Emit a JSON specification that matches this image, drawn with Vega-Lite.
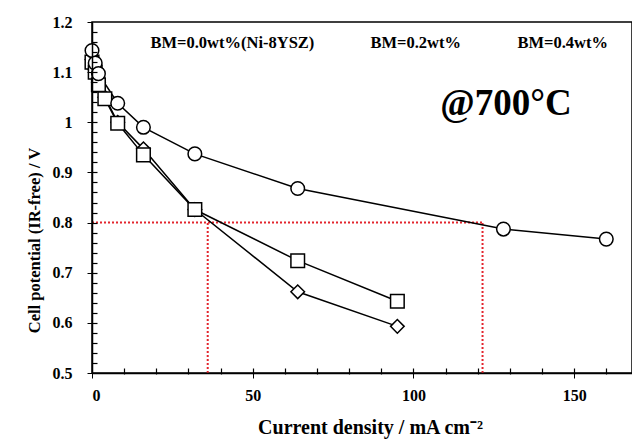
{
  "$schema": "https://vega.github.io/schema/vega-lite/v6.json",
  "width": 540,
  "height": 351,
  "autosize": {"type": "none"},
  "padding": {"left": 92, "top": 22, "right": 0, "bottom": 73},
  "background": "white",
  "config": {
    "view": {"stroke": "black", "strokeWidth": 1.5},
    "font": "Liberation Serif",
    "axis": {"grid": false, "domainColor": "black", "tickColor": "black", "labelColor": "black", "titleColor": "black", "labelFont": "Liberation Serif", "titleFont": "Liberation Serif", "labelFontWeight": "bold", "titleFontWeight": "bold", "labelFontSize": 16, "domainWidth": 1.5, "labelOverlap": false}
  },
  "resolve": {"axis": {"x": "independent", "y": "independent"}},
  "datasets": {
    "pts": [
      {"s": "BM=0.0wt%(Ni-8YSZ)", "x": 0, "y": 1.125},
      {"s": "BM=0.0wt%(Ni-8YSZ)", "x": 1, "y": 1.105},
      {"s": "BM=0.0wt%(Ni-8YSZ)", "x": 2, "y": 1.08},
      {"s": "BM=0.0wt%(Ni-8YSZ)", "x": 4, "y": 1.05},
      {"s": "BM=0.0wt%(Ni-8YSZ)", "x": 8, "y": 1.0},
      {"s": "BM=0.0wt%(Ni-8YSZ)", "x": 16, "y": 0.947},
      {"s": "BM=0.0wt%(Ni-8YSZ)", "x": 32, "y": 0.826},
      {"s": "BM=0.0wt%(Ni-8YSZ)", "x": 64, "y": 0.662},
      {"s": "BM=0.0wt%(Ni-8YSZ)", "x": 95, "y": 0.593},
      {"s": "BM=0.2wt%", "x": 0, "y": 1.12},
      {"s": "BM=0.2wt%", "x": 1, "y": 1.10},
      {"s": "BM=0.2wt%", "x": 2, "y": 1.075},
      {"s": "BM=0.2wt%", "x": 4, "y": 1.047},
      {"s": "BM=0.2wt%", "x": 8, "y": 0.998},
      {"s": "BM=0.2wt%", "x": 16, "y": 0.935},
      {"s": "BM=0.2wt%", "x": 32, "y": 0.826},
      {"s": "BM=0.2wt%", "x": 64, "y": 0.724},
      {"s": "BM=0.2wt%", "x": 95, "y": 0.643},
      {"s": "BM=0.4wt%", "x": 0, "y": 1.143},
      {"s": "BM=0.4wt%", "x": 1, "y": 1.118},
      {"s": "BM=0.4wt%", "x": 2, "y": 1.097},
      {"s": "BM=0.4wt%", "x": 8, "y": 1.038},
      {"s": "BM=0.4wt%", "x": 16, "y": 0.99},
      {"s": "BM=0.4wt%", "x": 32, "y": 0.937},
      {"s": "BM=0.4wt%", "x": 64, "y": 0.868},
      {"s": "BM=0.4wt%", "x": 128, "y": 0.787},
      {"s": "BM=0.4wt%", "x": 160, "y": 0.767}
    ],
    "guides": [
      {"x": 0, "x2": 121.5, "y": 0.8, "y2": 0.8},
      {"x": 36, "x2": 36, "y": 0.5, "y2": 0.8},
      {"x": 121.5, "x2": 121.5, "y": 0.5, "y2": 0.8}
    ],
    "label": [{"x": 128.8, "y": 1.036, "t": "@700°C"}]
  },
  "layer": [
    {
      "data": {"name": "guides"},
      "mark": {"type": "rule", "color": "#e3252d", "strokeWidth": 2, "strokeDash": [2, 2]},
      "encoding": {
        "x": {"field": "x", "type": "quantitative", "scale": {"domain": [0, 168], "nice": false},
          "axis": {"orient": "bottom", "title": "Current density / mA cm\u207b\u00b2", "titleFontSize": 20, "values": [0, 50, 100, 150], "tickSize": 5, "tickWidth": 1, "labelPadding": 9, "titlePadding": 14, "titleX": 278, "zindex": 1}},
        "x2": {"field": "x2"},
        "y": {"field": "y", "type": "quantitative", "scale": {"domain": [0.5, 1.2], "nice": false},
          "axis": {"orient": "left", "title": "Cell potential (IR-free) / V", "titleFontSize": 16.5, "values": [0.5, 0.6, 0.7, 0.8, 0.9, 1.0, 1.1, 1.2], "labelExpr": "datum.value == 1 ? '1' : format(datum.value, '.1f')", "tickSize": 5, "tickWidth": 1, "labelPadding": 15, "titlePadding": 10, "titleY": 218, "zindex": 1}},
        "y2": {"field": "y2"}
      }
    },
    {
      "data": {"name": "pts"},
      "mark": {"type": "line", "color": "black", "strokeWidth": 1.5},
      "encoding": {
        "x": {"field": "x", "type": "quantitative",
          "axis": {"orient": "bottom", "offset": -5, "domain": false, "labels": false, "title": null, "tickSize": 6, "tickWidth": 1.2, "zindex": 1, "values": [10,20,30,40,50,60,70,80,90,100,110,120,130,140,150,160]}},
        "y": {"field": "y", "type": "quantitative",
          "axis": {"orient": "left", "offset": -5, "domain": false, "labels": false, "title": null, "tickSize": 5, "tickWidth": 1.2, "zindex": 1, "values": [0.52,0.54,0.56,0.58,0.6,0.62,0.64,0.66,0.68,0.7,0.72,0.74,0.76,0.78,0.8,0.82,0.84,0.86,0.88,0.9,0.92,0.94,0.96,0.98,1.0,1.02,1.04,1.06,1.08,1.1,1.12,1.14,1.16,1.18]}},
        "detail": {"field": "s"}
      }
    },
    {
      "data": {"name": "pts"},
      "mark": {"type": "point", "filled": false, "fill": "white", "fillOpacity": 1, "stroke": "black", "strokeWidth": 1.5, "opacity": 1, "size": 185},
      "encoding": {
        "x": {"field": "x", "type": "quantitative", "axis": null},
        "y": {"field": "y", "type": "quantitative", "axis": null},
        "shape": {
          "field": "s", "type": "nominal",
          "scale": {"domain": ["BM=0.0wt%(Ni-8YSZ)", "BM=0.2wt%", "BM=0.4wt%"], "range": ["diamond", "square", "circle"]},
          "legend": {
            "title": null, "orient": "none", "direction": "horizontal", "legendX": 33, "legendY": 13,
            "labelFont": "Liberation Serif", "labelFontWeight": "bold", "labelFontSize": 16.5, "labelColor": "black", "labelLimit": 300,
            "symbolSize": 50, "labelOffset": 9, "columnPadding": 30,
            "symbolStrokeColor": "black", "symbolFillColor": "white", "symbolStrokeWidth": 1.3, "symbolOpacity": 1
          }
        }
      }
    },
    {
      "data": {"name": "label"},
      "mark": {"type": "text", "font": "Liberation Serif", "fontWeight": "bold", "fontSize": 37, "color": "black", "baseline": "middle", "align": "center"},
      "encoding": {
        "x": {"field": "x", "type": "quantitative", "axis": null},
        "y": {"field": "y", "type": "quantitative", "axis": null},
        "text": {"field": "t"}
      }
    }
  ]
}
